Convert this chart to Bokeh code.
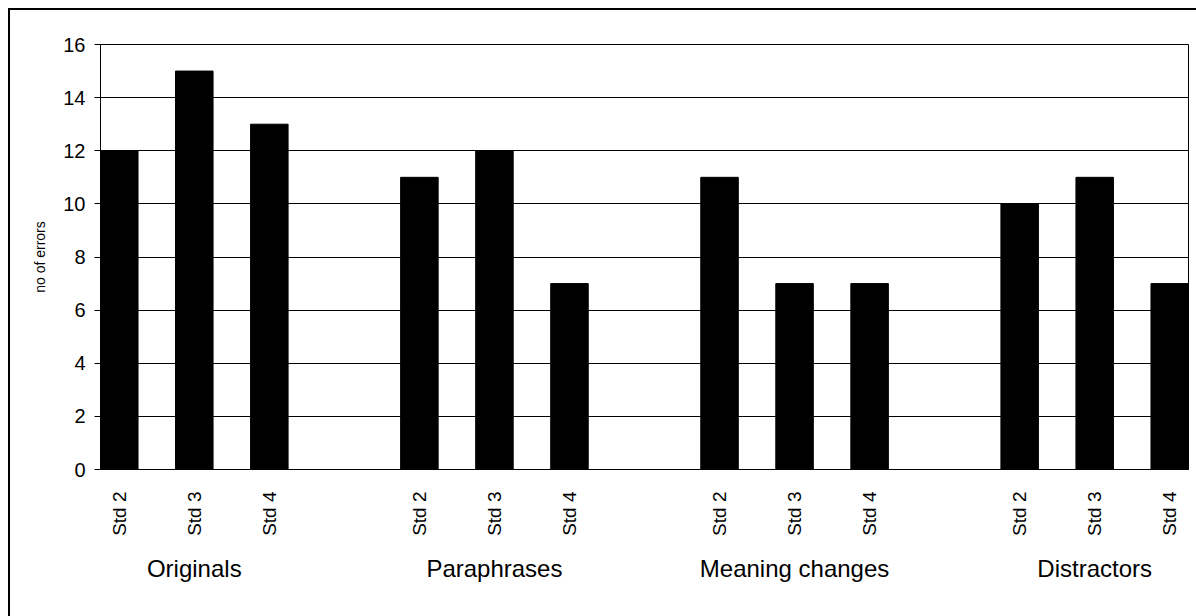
from bokeh.plotting import figure
from bokeh.models import FactorRange, FixedTicker, ColumnDataSource
from bokeh.embed import file_html
from bokeh.resources import INLINE

groups = ["Originals", "Paraphrases", "Meaning changes", "Distractors"]
stds = ["Std 2", "Std 3", "Std 4"]
values = [12, 15, 13, 11, 12, 7, 11, 7, 7, 10, 11, 7]
y_ticks = [0, 2, 4, 6, 8, 10, 12, 14, 16]

factors = [(g, s) for g in groups for s in stds]
src = ColumnDataSource(dict(x=factors, top=values))

xr = FactorRange(*factors, group_padding=1.0, range_padding=-0.25,
                 range_padding_units="absolute")

p = figure(x_range=xr, y_range=(0, 16), frame_width=1088, frame_height=425,
           min_border_left=100, min_border_right=8, min_border_top=44,
           min_border_bottom=147, output_backend="svg", toolbar_location=None,
           background_fill_color="white", border_fill_color=None)
p.styles = {
    "background": "linear-gradient(black, black) 8px 8px / 2px 100% no-repeat, "
                  "linear-gradient(black, black) 8px 8px / 100% 2px no-repeat, white",
}

p.vbar(x="x", top="top", width=0.5, source=src, fill_color="black",
       line_color="black")

p.outline_line_color = "black"
p.outline_line_width = 1
p.xgrid.grid_line_color = None
p.ygrid.grid_line_color = "black"
p.ygrid.grid_line_width = 1
p.yaxis.ticker = FixedTicker(ticks=y_ticks)
p.yaxis.minor_tick_line_color = None
p.yaxis.major_tick_in = 0
p.yaxis.major_tick_out = 6
p.yaxis.major_tick_line_color = "black"
p.yaxis.axis_line_color = "black"
p.yaxis.major_label_text_font = "Liberation Sans"
p.yaxis.major_label_text_font_size = "20px"
p.yaxis.major_label_text_color = "black"
p.yaxis.major_label_standoff = 9
p.yaxis.axis_label = "no of errors"
p.yaxis.axis_label_text_font = "Liberation Sans"
p.yaxis.axis_label_text_font_size = "14px"
p.yaxis.axis_label_text_font_style = "normal"
p.yaxis.axis_label_text_color = "black"
p.yaxis.axis_label_standoff = 12

p.xaxis.axis_line_color = "black"
p.xaxis.major_tick_line_color = None
p.xaxis.minor_tick_line_color = None
p.xaxis.major_label_orientation = 1.5708
p.xaxis.major_label_text_font = "Liberation Sans"
p.xaxis.major_label_text_font_size = "19px"
p.xaxis.major_label_text_color = "black"
p.xaxis.major_label_standoff = 16
p.xaxis.group_text_font = "Liberation Sans"
p.xaxis.group_text_font_size = "24px"
p.xaxis.group_text_font_style = "normal"
p.xaxis.group_text_color = "black"
p.xaxis.separator_line_alpha = 0

open("out.html", "w").write(file_html(p, INLINE))
